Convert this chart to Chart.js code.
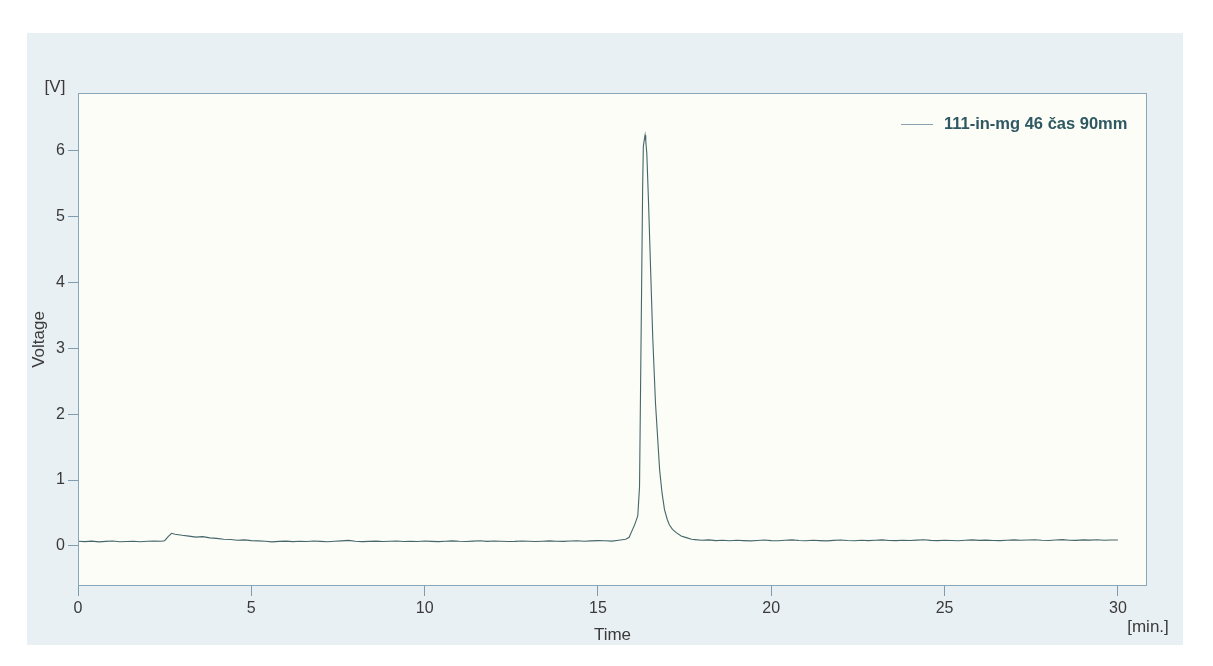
<!DOCTYPE html>
<html>
<head>
<meta charset="utf-8">
<script src="https://cdn.jsdelivr.net/npm/chart.js@4.4.1/dist/chart.umd.min.js"></script>
<style>
  html, body { margin: 0; padding: 0; background: #ffffff; }
</style>
</head>
<body>
<canvas id="chart" width="1213" height="666"></canvas>
<script>
// chromatogram trace
const seriesName = "111-in-mg 46 čas 90mm";

const times = [
  0, 0.2, 0.4, 0.6, 0.8, 1, 1.2, 1.4, 1.6, 1.8, 2, 2.2, 2.4, 2.5, 2.6, 2.7, 2.8,
  3, 3.2, 3.4, 3.6, 3.8, 4, 4.2, 4.4, 4.6, 4.8, 5, 5.2, 5.4, 5.6, 5.8,
  6, 6.2, 6.4, 6.6, 6.8, 7, 7.2, 7.4, 7.6, 7.8, 8, 8.2, 8.4, 8.6, 8.8,
  9, 9.2, 9.4, 9.6, 9.8, 10, 10.2, 10.4, 10.6, 10.8, 11, 11.2, 11.4, 11.6, 11.8,
  12, 12.2, 12.4, 12.6, 12.8, 13, 13.2, 13.4, 13.6, 13.8, 14, 14.2, 14.4, 14.6, 14.8,
  15, 15.2, 15.4, 15.6, 15.8, 15.9, 16, 16.05, 16.1, 16.15, 16.2, 16.23, 16.26, 16.29,
  16.31, 16.34, 16.36, 16.38, 16.41, 16.46, 16.52, 16.58, 16.66, 16.78, 16.85, 16.92,
  17, 17.06, 17.15, 17.26, 17.4, 17.55, 17.7, 17.8,
  18, 18.2, 18.4, 18.6, 18.8, 19, 19.2, 19.4, 19.6, 19.8,
  20, 20.2, 20.4, 20.6, 20.8, 21, 21.2, 21.4, 21.6, 21.8,
  22, 22.2, 22.4, 22.6, 22.8, 23, 23.2, 23.4, 23.6, 23.8,
  24, 24.2, 24.4, 24.6, 24.8, 25, 25.2, 25.4, 25.6, 25.8,
  26, 26.2, 26.4, 26.6, 26.8, 27, 27.2, 27.4, 27.6, 27.8,
  28, 28.2, 28.4, 28.6, 28.8, 29, 29.2, 29.4, 29.6, 29.8, 30
];

const voltage = [
  0.07, 0.064, 0.071, 0.06, 0.068, 0.073, 0.062, 0.067, 0.071, 0.063, 0.069, 0.074, 0.07, 0.078, 0.14, 0.19, 0.175,
  0.16, 0.148, 0.132, 0.14, 0.121, 0.113, 0.1, 0.096, 0.084, 0.09, 0.079, 0.075, 0.07, 0.061, 0.068,
  0.072, 0.064, 0.07, 0.066, 0.074, 0.068, 0.062, 0.07, 0.076, 0.083, 0.07, 0.064, 0.068, 0.072, 0.065,
  0.07, 0.074, 0.066, 0.07, 0.067, 0.073, 0.068, 0.064, 0.071, 0.075, 0.069, 0.066, 0.072, 0.078, 0.068,
  0.073, 0.07, 0.065, 0.068, 0.074, 0.071, 0.066, 0.07, 0.075, 0.07, 0.068, 0.073, 0.077, 0.071, 0.075,
  0.08, 0.078, 0.072, 0.085, 0.1, 0.13, 0.25, 0.31, 0.38, 0.46, 0.9, 2.42, 3.94, 5.46,
  6.07, 6.18, 6.24, 6.15, 5.96, 5.21, 4.19, 3.18, 2.17, 1.15, 0.8, 0.55,
  0.4, 0.32, 0.25, 0.2, 0.15, 0.125, 0.1, 0.095,
  0.085, 0.09, 0.08, 0.084, 0.078, 0.086, 0.08, 0.075, 0.082, 0.088,
  0.08, 0.077, 0.084, 0.09, 0.081, 0.078, 0.085, 0.08, 0.076, 0.083,
  0.089, 0.081, 0.077, 0.086, 0.08, 0.084, 0.09, 0.082, 0.079, 0.085,
  0.081, 0.087, 0.092, 0.083, 0.08, 0.086, 0.082, 0.078, 0.085, 0.09,
  0.083, 0.087, 0.081, 0.079, 0.086, 0.09, 0.084, 0.088, 0.093, 0.085,
  0.082, 0.089, 0.095, 0.086, 0.083, 0.09, 0.087, 0.092, 0.085, 0.088, 0.09
];

const xTicks = [0, 5, 10, 15, 20, 25, 30];
const yTicks = [0, 1, 2, 3, 4, 5, 6];

const lineColor = "#46666b";
const fontFamily = "'Liberation Sans', Arial, sans-serif";

const points = times.map((t, i) => ({ x: t, y: voltage[i] }));

// scan-like panel behind the plot, plot frame, unit labels and legend
const decorations = {
  id: "decorations",
  beforeDraw(chart) {
    const { ctx, chartArea: a } = chart;
    ctx.save();
    ctx.fillStyle = "#ffffff";
    ctx.fillRect(0, 0, chart.width, chart.height);
    ctx.fillStyle = "#e9f0f3";
    ctx.fillRect(27, 33, 1156, 612);
    ctx.fillStyle = "#fbfdf6";
    ctx.fillRect(a.left, a.top, a.right - a.left, a.bottom - a.top);
    ctx.restore();
  },
  afterDraw(chart) {
    const { ctx, chartArea: a } = chart;
    ctx.save();
    ctx.strokeStyle = "#8aa7ba";
    ctx.lineWidth = 1;
    ctx.strokeRect(a.left + 0.5, a.top + 0.5, a.right - a.left - 1, a.bottom - a.top - 1);

    ctx.fillStyle = "#3a3a3a";
    ctx.font = "17px " + fontFamily;
    ctx.textAlign = "center";
    ctx.textBaseline = "middle";
    ctx.fillText("[V]", 55, 87);
    ctx.fillText("[min.]", 1148, 627);

    // legend
    ctx.strokeStyle = "#8a9fae";
    ctx.beginPath();
    ctx.moveTo(901, 124.5);
    ctx.lineTo(933, 124.5);
    ctx.stroke();
    ctx.fillStyle = "#2f5862";
    ctx.font = "bold 16.5px " + fontFamily;
    ctx.textAlign = "left";
    ctx.fillText(chart.data.datasets[0].label, 944, 124);
    ctx.restore();
  }
};

new Chart(document.getElementById("chart"), {
  type: "line",
  data: {
    datasets: [{
      label: seriesName,
      data: points,
      borderColor: lineColor,
      backgroundColor: lineColor,
      borderWidth: 1.1,
      pointRadius: 0,
      tension: 0,
      fill: false
    }]
  },
  options: {
    responsive: false,
    animation: false,
    layout: { padding: { left: 0, top: 93, right: 66, bottom: 0 } },
    plugins: {
      legend: { display: false },
      tooltip: { enabled: false }
    },
    scales: {
      x: {
        type: "linear",
        min: 0,
        max: 30.84,
        afterFit(scale) { scale.height = 80; },
        afterBuildTicks(scale) { scale.ticks = xTicks.map(v => ({ value: v })); },
        border: { display: false },
        grid: { drawOnChartArea: false, drawTicks: true, tickLength: 10, color: "#7f9cb0" },
        ticks: { color: "#3a3a3a", padding: 3, font: { family: fontFamily, size: 16 } },
        title: { display: true, text: "Time", color: "#3a3a3a", padding: { bottom: 20 }, font: { family: fontFamily, size: 17 } }
      },
      y: {
        type: "linear",
        min: -0.61,
        max: 6.88,
        afterFit(scale) { scale.width = 78; },
        afterBuildTicks(scale) { scale.ticks = yTicks.map(v => ({ value: v })); },
        border: { display: false },
        grid: { drawOnChartArea: false, drawTicks: true, tickLength: 10, color: "#7f9cb0" },
        ticks: { color: "#3a3a3a", padding: 3, font: { family: fontFamily, size: 16 } },
        title: { display: true, text: "Voltage", color: "#3a3a3a", padding: { top: 29 }, font: { family: fontFamily, size: 17 } }
      }
    }
  },
  plugins: [decorations]
});
</script>
</body>
</html>
